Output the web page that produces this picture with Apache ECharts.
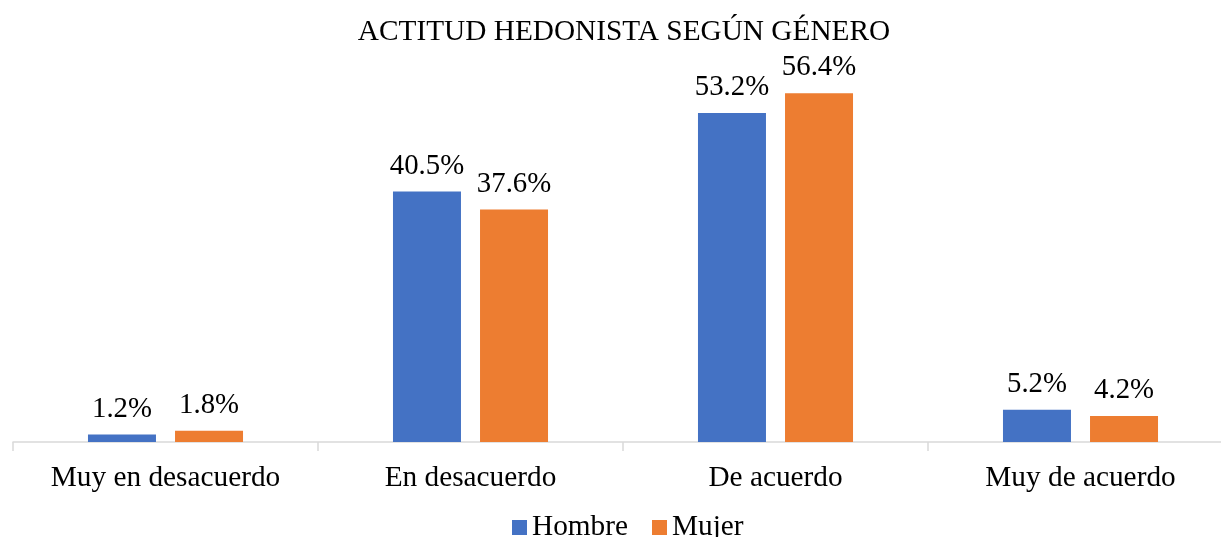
<!DOCTYPE html>
<html>
<head>
<meta charset="utf-8">
<script src="https://cdn.jsdelivr.net/npm/echarts@6/dist/echarts.min.js"></script>
<style>
html,body{margin:0;padding:0;background:#fff;overflow:hidden;width:1221px;height:537px;}
#chart{width:1233px;height:537px;}
</style>
</head>
<body>
<div id="chart"></div>
<script>
const titleText = 'ACTITUD HEDONISTA SEGÚN GÉNERO';
const categories = ['Muy en desacuerdo', 'En desacuerdo', 'De acuerdo', 'Muy de acuerdo'];
const seriesNames = ['Hombre', 'Mujer'];
const hombre = [1.2, 40.5, 53.2, 5.2];
const mujer = [1.8, 37.6, 56.4, 4.2];
const colors = ['#4472C4', '#ED7D31'];

const font = '"Liberation Serif", "Times New Roman", serif';
const chart = echarts.init(document.getElementById('chart'));
const labelCfg = {
  show: true,
  position: 'top',
  distance: 11,
  fontFamily: font,
  fontSize: 28.8,
  color: '#000',
  formatter: p => p.value.toFixed(1) + '%'
};
chart.setOption({
  animation: false,
  backgroundColor: '#fff',
  title: {
    text: titleText,
    left: 619,
    textAlign: 'center',
    top: 13,
    textStyle: { fontFamily: font, fontSize: 29.3, fontWeight: 'normal', color: '#000' }
  },
  legend: {
    data: seriesNames,
    bottom: -10,
    left: 507,
    itemWidth: 15,
    itemHeight: 15,
    itemGap: 24,
    textStyle: { fontFamily: font, fontSize: 29.3, color: '#000' },
    icon: 'rect'
  },
  grid: { left: 13, right: 0, top: 71, bottom: 95, containLabel: false },
  xAxis: {
    type: 'category',
    data: categories,
    axisLine: { lineStyle: { color: '#D9D9D9', width: 1.5 } },
    axisTick: { show: true, length: 9, lineStyle: { color: '#D9D9D9', width: 1.5 } },
    axisLabel: { fontFamily: font, fontSize: 29.3, color: '#000', margin: 22 }
  },
  yAxis: {
    type: 'value',
    min: 0,
    max: 60,
    interval: 10,
    show: false,
    splitLine: { show: false }
  },
  series: [
    { name: seriesNames[0], type: 'bar', data: hombre, barWidth: 68, barGap: '28%', itemStyle: { color: colors[0] }, label: labelCfg },
    { name: seriesNames[1], type: 'bar', data: mujer, barWidth: 68, itemStyle: { color: colors[1] }, label: labelCfg }
  ]
});
</script>
</body>
</html>
